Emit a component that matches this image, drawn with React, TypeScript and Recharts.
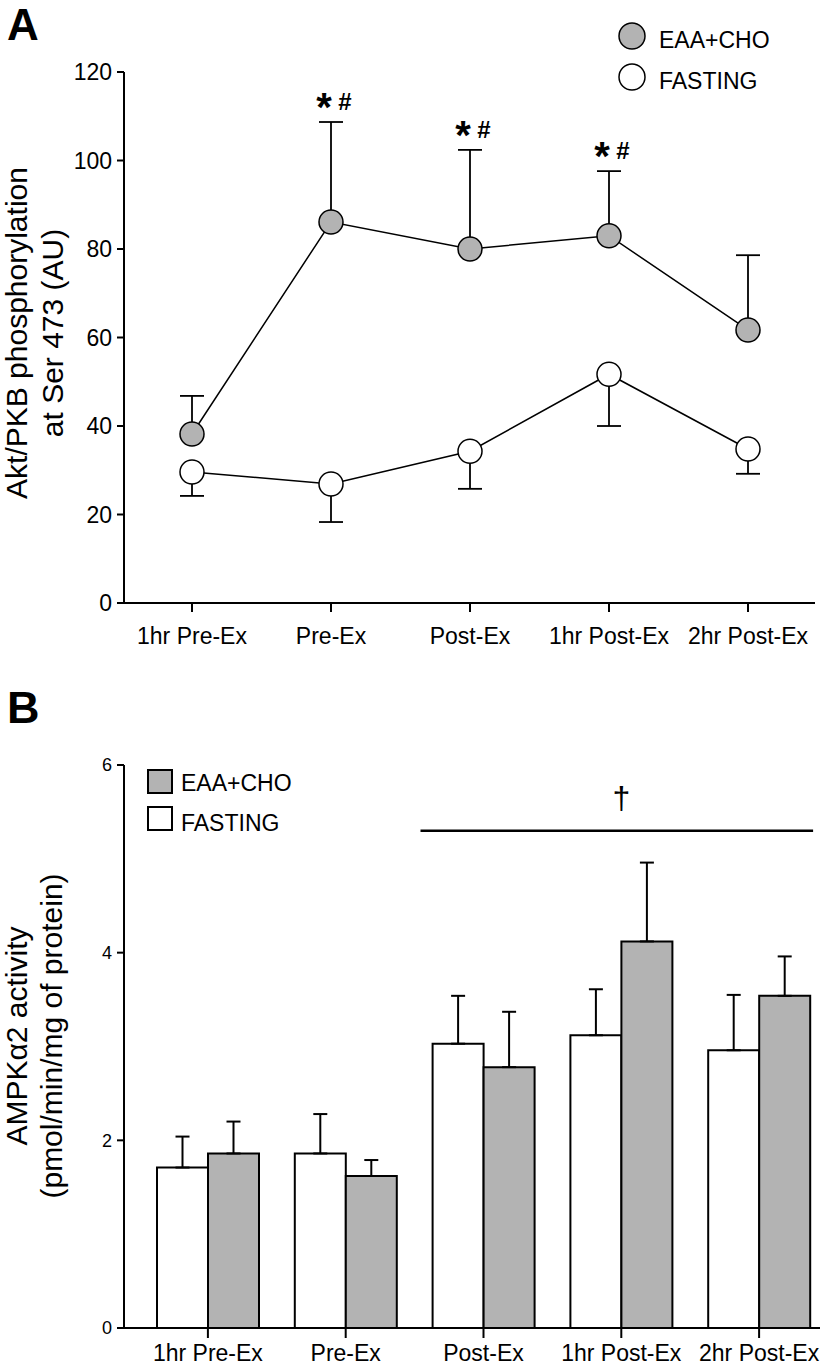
import React from 'react';
import {
  ComposedChart,
  Line,
  Bar,
  XAxis,
  YAxis,
  ErrorBar,
  ReferenceDot,
  ReferenceLine,
  Legend,
} from 'recharts';

const FONT = '"Liberation Sans", Arial, Helvetica, sans-serif';
const GRAY = '#b3b3b3';

// ---------- shared ----------
const timepoints = ['1hr Pre-Ex', 'Pre-Ex', 'Post-Ex', '1hr Post-Ex', '2hr Post-Ex'];
const seriesNames = ['EAA+CHO', 'FASTING'];

// ---------- panel A : Akt/PKB phosphorylation ----------
const aktEaa = [38.2, 86.1, 80.0, 83.0, 61.7];
const aktEaaUpper = [46.8, 108.7, 102.4, 97.6, 78.6];
const aktFasting = [29.6, 26.9, 34.3, 51.7, 34.8];
const aktFastingLower = [24.2, 18.3, 25.8, 40.0, 29.2];
const aktSignificant = ['Pre-Ex', 'Post-Ex', '1hr Post-Ex'];
const aktTicks = [0, 20, 40, 60, 80, 100, 120];
const aktTitle = ['Akt/PKB phosphorylation', 'at Ser 473 (AU)'];

// ---------- panel B : AMPKα2 activity ----------
const ampkFasting = [1.71, 1.86, 3.03, 3.12, 2.96];
const ampkFastingUpper = [2.04, 2.28, 3.54, 3.61, 3.55];
const ampkEaa = [1.86, 1.62, 2.78, 4.12, 3.54];
const ampkEaaUpper = [2.2, 1.79, 3.37, 4.96, 3.96];
const ampkTicks = [0, 2, 4, 6];
const ampkTitle = ['AMPKα2 activity', '(pmol/min/mg of protein)'];
const ampkBracketFrom = 'Post-Ex';
const ampkBracketTo = '2hr Post-Ex';
const ampkBracketLevel = 5.3;
const ampkBracketMark = '†';

const r2 = (v: number) => Math.round(v * 100) / 100;

const aktData = timepoints.map((t, i) => ({
  t,
  eaa: aktEaa[i],
  eaaErr: [0, r2(aktEaaUpper[i] - aktEaa[i])],
  fasting: aktFasting[i],
  fastingErr: [r2(aktFasting[i] - aktFastingLower[i]), 0],
}));

const ampkData = timepoints.map((t, i) => ({
  t,
  fasting: ampkFasting[i],
  fastingErr: [0, r2(ampkFastingUpper[i] - ampkFasting[i])],
  eaa: ampkEaa[i],
  eaaErr: [0, r2(ampkEaaUpper[i] - ampkEaa[i])],
}));

const VTitle = ({ lines, cy, baselines, fontSize }: any) => (
  <text
    transform={`translate(0,${cy}) rotate(-90)`}
    textAnchor="middle"
    fontSize={fontSize}
    fontFamily={FONT}
    fill="#000"
  >
    {lines.map((l: string, i: number) => (
      <tspan key={i} x={0} y={baselines[i]}>
        {l}
      </tspan>
    ))}
  </text>
);

const SigMark = (props: any) => {
  const vb = props.viewBox || {};
  const cx = (vb.x || 0) + (vb.width || 0) / 2;
  const cy = (vb.y || 0) + (vb.height || 0) / 2;
  return (
    <g>
      <text x={cx - 7} y={cy - 1} textAnchor="middle" fontSize={40} fontWeight="bold" fontFamily={FONT} fill="#000">
        *
      </text>
      <text x={cx + 14} y={cy - 12} textAnchor="middle" fontSize={24} fontWeight="bold" fontFamily={FONT} fill="#000">
        #
      </text>
    </g>
  );
};

const LegendA = () => (
  <svg width={200} height={90} style={{ display: 'block' }}>
    {seriesNames.map((name, i) => (
      <g key={name}>
        <circle cx={15} cy={15 + i * 41} r={13} fill={i === 0 ? GRAY : '#fff'} stroke="#000" strokeWidth={1.5} />
        <text x={42} y={27 + i * 41} fontSize={23} fontFamily={FONT} fill="#000">
          {name}
        </text>
      </g>
    ))}
  </svg>
);

const LegendB = () => (
  <svg width={200} height={80} style={{ display: 'block' }}>
    {seriesNames.map((name, i) => (
      <g key={name}>
        <rect x={3} y={3 + i * 37} width={24} height={23} fill={i === 0 ? GRAY : '#fff'} stroke="#000" strokeWidth={2} />
        <text x={36} y={24 + i * 40} fontSize={23} fontFamily={FONT} fill="#000">
          {name}
        </text>
      </g>
    ))}
  </svg>
);

const tickA = { fontSize: 23, fill: '#000', fontFamily: FONT };
const tickAy = { fontSize: 23, fill: '#000', fontFamily: FONT };
const tickBy = { fontSize: 18, fill: '#000', fontFamily: FONT };

export default function App() {
  return (
    <div
      style={{
        position: 'absolute',
        left: 0,
        top: 0,
        width: 829,
        height: 1368,
        background: '#fff',
        overflow: 'hidden',
        fontFamily: FONT,
      }}
    >
      <svg width={60} height={60} style={{ position: 'absolute', left: 0, top: 0 }}>
        <text x={7} y={40} fontSize={44} fontWeight="bold" fontFamily={FONT} fill="#000">
          A
        </text>
      </svg>
      <svg width={60} height={60} style={{ position: 'absolute', left: 0, top: 680 }}>
        <text x={7} y={43} fontSize={45} fontWeight="bold" fontFamily={FONT} fill="#000">
          B
        </text>
      </svg>

      {/* Panel A */}
      <div style={{ position: 'absolute', left: 0, top: 0 }}>
        <ComposedChart width={829} height={680} data={aktData} margin={{ top: 72, right: 14, bottom: 17, left: 0 }}>
          <XAxis
            dataKey="t"
            scale="point"
            padding={{ left: 68, right: 67 }}
            interval={0}
            height={60}
            tickSize={9}
            tickMargin={16}
            tick={tickA}
            axisLine={{ stroke: '#000', strokeWidth: 2 }}
            tickLine={{ stroke: '#000', strokeWidth: 2 }}
          />
          <YAxis
            width={124}
            domain={[0, 120]}
            ticks={aktTicks}
            interval={0}
            tickSize={7}
            tickMargin={5}
            tick={tickAy}
            axisLine={{ stroke: '#000', strokeWidth: 2 }}
            tickLine={{ stroke: '#000', strokeWidth: 2 }}
            label={{ content: () => <VTitle lines={aktTitle} cy={333} baselines={[27, 63]} fontSize={30} /> }}
          />
          <Legend
            layout="horizontal"
            verticalAlign="middle"
            align="center"
            content={() => <LegendA />}
            wrapperStyle={{ left: 617, top: 21, width: 200, height: 90 }}
          />
          <Line
            dataKey="fasting"
            name={seriesNames[1]}
            stroke="#000"
            strokeWidth={1.5}
            isAnimationActive={false}
            dot={{ r: 12, fill: '#fff', stroke: '#000', strokeWidth: 1.5 }}
            activeDot={false}
          >
            <ErrorBar dataKey="fastingErr" width={12} stroke="#000" strokeWidth={1.8} direction="y" isAnimationActive={false} />
          </Line>
          <Line
            dataKey="eaa"
            name={seriesNames[0]}
            stroke="#000"
            strokeWidth={1.5}
            isAnimationActive={false}
            dot={{ r: 12, fill: GRAY, stroke: '#000', strokeWidth: 1.5 }}
            activeDot={false}
          >
            <ErrorBar dataKey="eaaErr" width={12} stroke="#000" strokeWidth={1.8} direction="y" isAnimationActive={false} />
          </Line>
          {aktSignificant.map((t) => (
            <ReferenceDot
              key={t}
              x={t}
              y={aktEaaUpper[timepoints.indexOf(t)]}
              r={1}
              fill="none"
              stroke="none"
              label={{ content: (p: any) => <SigMark {...p} /> }}
            />
          ))}
        </ComposedChart>
      </div>

      {/* Panel B */}
      <div style={{ position: 'absolute', left: 0, top: 680 }}>
        <ComposedChart
          width={829}
          height={688}
          data={ampkData}
          margin={{ top: 85, right: 9, bottom: 0, left: 0 }}
          barGap={0}
          barSize={51}
        >
          <XAxis
            dataKey="t"
            padding={{ left: 15, right: -8 }}
            interval={0}
            height={40}
            tickSize={10}
            tickMargin={7}
            tick={tickA}
            axisLine={{ stroke: '#000', strokeWidth: 2 }}
            tickLine={{ stroke: '#000', strokeWidth: 2 }}
          />
          <YAxis
            width={124}
            domain={[0, 6]}
            ticks={ampkTicks}
            interval={0}
            tickSize={7}
            tickMargin={5}
            tick={tickBy}
            axisLine={{ stroke: '#000', strokeWidth: 2 }}
            tickLine={{ stroke: '#000', strokeWidth: 2 }}
            label={{ content: () => <VTitle lines={ampkTitle} cy={356} baselines={[27, 62]} fontSize={30} /> }}
          />
          <Legend
            layout="horizontal"
            verticalAlign="middle"
            align="center"
            content={() => <LegendB />}
            wrapperStyle={{ left: 145, top: 87, width: 200, height: 80 }}
          />
          <Bar dataKey="fasting" name={seriesNames[1]} fill="#fff" stroke="#000" strokeWidth={2} isAnimationActive={false}>
            <ErrorBar dataKey="fastingErr" width={7} stroke="#000" strokeWidth={2} direction="y" isAnimationActive={false} />
          </Bar>
          <Bar dataKey="eaa" name={seriesNames[0]} fill={GRAY} stroke="#000" strokeWidth={2} isAnimationActive={false}>
            <ErrorBar dataKey="eaaErr" width={7} stroke="#000" strokeWidth={2} direction="y" isAnimationActive={false} />
          </Bar>
          <ReferenceLine
            segment={[
              { x: ampkBracketFrom, y: ampkBracketLevel },
              { x: ampkBracketTo, y: ampkBracketLevel },
            ]}
            stroke="#000"
            strokeWidth={2.5}
            shape={(p: any) => (
              <line x1={p.x1 - 63} y1={p.y1} x2={p.x2 + 54} y2={p.y2} stroke="#000" strokeWidth={2.5} />
            )}
            label={{ value: ampkBracketMark, position: 'top', offset: 22, fontSize: 32, fill: '#000', fontFamily: FONT }}
          />
        </ComposedChart>
      </div>
    </div>
  );
}
